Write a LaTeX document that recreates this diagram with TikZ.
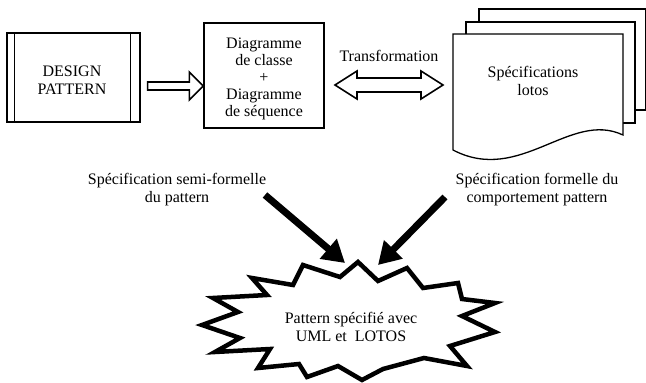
\documentclass[tikz,border=0pt]{standalone}
\usepackage{fontspec}
\setmainfont{Liberation Serif}
\usetikzlibrary{arrows.meta,calc}

\begin{document}
\begin{tikzpicture}[x=1pt,y=-1pt, line join=miter,
  box/.style={draw, line width=1.3pt},
  lbl/.style={font=\fontsize{16}{18}\selectfont, align=center, inner sep=0pt},
  hollow/.style={draw, line width=1.6pt, fill=white},
  bigarrow/.style={line width=7pt, -{Triangle[length=22pt,width=25pt]}},
  burst/.style={draw, line width=4.5pt, fill=white},
]
\clip (0,0) rectangle (646,383);

% design pattern block with side bars
\node[box, minimum width=133pt, minimum height=89pt, inner sep=0pt] (design) at (73.5,77.5) {};
\draw[box] ([xshift=8pt]design.north west) -- ([xshift=8pt]design.south west);
\draw[box] ([xshift=-10pt]design.north east) -- ([xshift=-10pt]design.south east);
\node[lbl] (designtxt) at (72,80) {DESIGN\\PATTERN};

% UML diagrams block
\node[box, minimum width=120pt, minimum height=105pt, inner sep=0pt] (diag) at (264,75.5) {};
\node[lbl, font=\fontsize{16}{17}\selectfont] (diagtxt) at (264,79)
  {Diagramme\\de classe\\+\\Diagramme\\de séquence};

% hollow arrow design -> diagrams
\coordinate (h0) at (design.east |- 0,86);
\coordinate (h1) at (diag.west |- 0,86);
\draw[hollow] ($(h0)+(7,-4)$) -- ($(h1)+(-14,-4)$) -- ($(h1)+(-14,-14)$) -- (h1)
  -- ($(h1)+(-14,14)$) -- ($(h1)+(-14,4)$) -- ($(h0)+(7,4)$) -- cycle;

% hollow double arrow (transformation)
\coordinate (t0) at (335,85);
\coordinate (t1) at (443,85);
\draw[hollow] (t0) -- ($(t0)+(22,-14)$) -- ($(t0)+(22,-7)$) -- ($(t1)+(-22,-7)$)
  -- ($(t1)+(-22,-14)$) -- (t1) -- ($(t1)+(-22,14)$) -- ($(t1)+(-22,7)$)
  -- ($(t0)+(22,7)$) -- ($(t0)+(22,14)$) -- cycle;
\node[lbl] (transf) at (389,56) {Transformation};

% stack of documents
\draw[box, fill=white] (479,9) rectangle (645.5,110);
\draw[box, fill=white] (466,22) rectangle (635,123);
\draw[box, fill=white] (453,34) -- (623,34) -- (623,135)
  .. controls (570,110) and (520,185) .. (453,150) -- cycle;
\node[lbl] (spec) at (533,81) {Spécifications\\lotos};

% captions
\node[lbl] (semi) at (177,190) {Spécification semi-formelle\\du pattern};
\node[lbl] (formal) at (537,190) {Spécification formelle du\\comportement pattern};

% burst shape for the result
\draw[burst] (358,262) -- (378,281) -- (407,268) -- (423,288) -- (458,283)
  -- (462,299) -- (495,303) -- (462,316) -- (495,332) -- (450,346)
  -- (467,366) -- (424,358) -- (383,369) -- (362,380) -- (338,366)
  -- (307,377) -- (299,364) -- (258,368) -- (270,349) -- (215,352)
  -- (240,338) -- (202,325) -- (238,312) -- (213,298) -- (267,295)
  -- (252,278) -- (293,285) -- (303,265) -- (340,277) -- cycle;
\node[lbl] (result) at (351,327)
  {Pattern spécifié avec\\UML et\ \ LOTOS};

% thick arrows into the burst
\coordinate (la0) at (265,195);
\coordinate (la1) at (345,263);
\coordinate (ra0) at (445,197);
\coordinate (ra1) at (378,265);
\draw[bigarrow] (la0) -- (la1);
\draw[bigarrow] (ra0) -- (ra1);
\end{tikzpicture}
\end{document}
